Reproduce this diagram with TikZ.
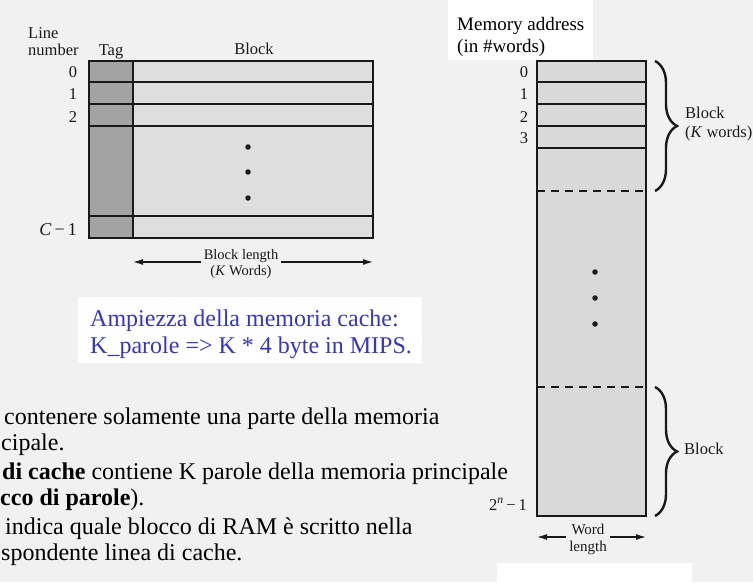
\documentclass[tikz,border=0pt]{standalone}
\usepackage{fontspec}
\setmainfont{Liberation Serif}
\usetikzlibrary{arrows.meta,decorations.pathreplacing}
\definecolor{pagebg}{HTML}{F1F1F1}
\definecolor{tagfill}{HTML}{A3A3A3}
\definecolor{blockfill}{HTML}{DEDEDE}
\definecolor{memfill}{HTML}{D9D9D9}
\definecolor{slideblue}{HTML}{3434CF}
\begin{document}
\begin{tikzpicture}[x=1pt,y=-1pt,
  lab/.style={font=\fontsize{16.5}{18.5}\selectfont, inner sep=0pt, text=black!90},
  smalllab/.style={font=\fontsize{14.5}{16.5}\selectfont, inner sep=3pt, text=black!90, align=center},
  memlab/.style={font=\fontsize{19}{22}\selectfont, inner sep=0pt, anchor=base west},
  bodytext/.style={font=\fontsize{24}{28}\selectfont, inner sep=0pt, anchor=base west},
  bluetext/.style={font=\fontsize{24}{28}\selectfont, inner sep=0pt, anchor=base west, text=slideblue},
  boxline/.style={draw=black!90, line width=1.6pt},
  rowline/.style={draw=black!90, line width=1.3pt},
  dashline/.style={draw=black!90, line width=1.3pt, dash pattern=on 8pt off 6pt},
  dimarrow/.style={draw=black!90, line width=1.2pt, -{Latex[length=10pt,width=6pt]}},
  bracestyle/.style={draw=black!90, line width=2.4pt, decorate, decoration={brace, amplitude=22pt}},
  dotmark/.style={circle, fill=black!90, inner sep=0pt, minimum size=5.5pt}
]
\fill[pagebg] (0,0) rectangle (753,582);
\useasboundingbox (0,0) rectangle (753,582);
\fill[white] (448,0) rectangle (593,60);
\fill[white] (78,297) rectangle (422,363);
\fill[white] (497,563) rectangle (692,582);

% ---------- cache ----------
\fill[blockfill] (89,61) rectangle (373,238);
\fill[tagfill] (89,61) rectangle (133,238);
\foreach \yy in {82,104,126,216} {\draw[rowline] (89,\yy) -- (373,\yy);}
\draw[boxline] (89,61) rectangle (373,238);
\draw[boxline] (133,61) -- (133,238);
\node[dotmark] (cd1) at (248,147) {};
\node[dotmark] (cd2) at (248,172) {};
\node[dotmark] (cd3) at (248,198) {};

\node[lab, anchor=base west] (linelab) at (28,38) {Line};
\node[lab, anchor=base west] (numlab) at (28,55) {number};
\node[lab, anchor=base] (taglab) at (111,55) {Tag};
\node[lab, anchor=base] (blocklab) at (254,54) {Block};
\node[lab, anchor=base] (l0) at (73,77) {0};
\node[lab, anchor=base] (l1) at (73,99) {1};
\node[lab, anchor=base] (l2) at (73,122) {2};
\node[lab, anchor=base east, font=\fontsize{18}{20}\selectfont] (lc) at (77,235) {\textit{C}\,−\,1};

\node[smalllab] (blen) at (241,264) {Block length\\(\textit{K} Words)};
\coordinate (blL) at (133,262);
\coordinate (blR) at (373,262);
\draw[dimarrow] (blen.west |- blL) -- (blL);
\draw[dimarrow] (blen.east |- blR) -- (blR);

% ---------- main memory ----------
\fill[memfill] (537,61) rectangle (646,516);
\foreach \yy in {82,104,126,148} {\draw[rowline] (537,\yy) -- (646,\yy);}
\draw[dashline] (537,191) -- (646,191);
\draw[dashline] (537,387) -- (646,387);
\draw[boxline] (537,61) rectangle (646,516);
\node[dotmark] (md1) at (595,272) {};
\node[dotmark] (md2) at (595,298) {};
\node[dotmark] (md3) at (595,324) {};

\node[memlab] (memaddr) at (457,30) {Memory address};
\node[memlab] (inwords) at (457,52) {(in \#words)};
\node[lab, anchor=base] (m0) at (524,77) {0};
\node[lab, anchor=base] (m1) at (524,99) {1};
\node[lab, anchor=base] (m2) at (524,122) {2};
\node[lab, anchor=base] (m3) at (524,143) {3};
\node[lab, anchor=base east] (mn) at (527,510) {2\textsuperscript{\textit{n}}\,−\,1};

\coordinate (b1top) at (655,61);
\coordinate (b1bot) at (655,191);
\draw[bracestyle] (b1top) -- (b1bot);
\node[lab, anchor=west, align=left] (blk1) at (685,124) {Block\\(\textit{K} words)};
\coordinate (b2top) at (655,387);
\coordinate (b2bot) at (655,516);
\draw[bracestyle] (b2top) -- (b2bot);
\node[lab, anchor=west] (blk2) at (684,449) {Block};

\node[smalllab, font=\fontsize{15}{17}\selectfont] (wlen) at (588,539) {Word\\length};
\coordinate (wlL) at (537,537);
\coordinate (wlR) at (646,537);
\draw[dimarrow] (wlen.west |- wlL) -- (wlL);
\draw[dimarrow] (wlen.east |- wlR) -- (wlR);

% ---------- slide text ----------
\node[bluetext] (amp1) at (90,326) {Ampiezza della memoria cache:};
\node[bluetext] (amp2) at (90,353) {K\_parole => K * 4 byte in MIPS.};

\node[bodytext] (t1) at (4,424) {contenere solamente una parte della memoria};
\node[bodytext] (t2) at (1,450) {cipale.};
\node[bodytext] (t3) at (2,479) {\textbf{di cache} contiene K parole della memoria principale};
\node[bodytext] (t4) at (0,505) {\textbf{cco di parole}).};
\node[bodytext] (t5) at (5,534) {indica quale blocco di RAM è scritto nella};
\node[bodytext] (t6) at (1,560) {spondente linea di cache.};
\end{tikzpicture}
\end{document}
